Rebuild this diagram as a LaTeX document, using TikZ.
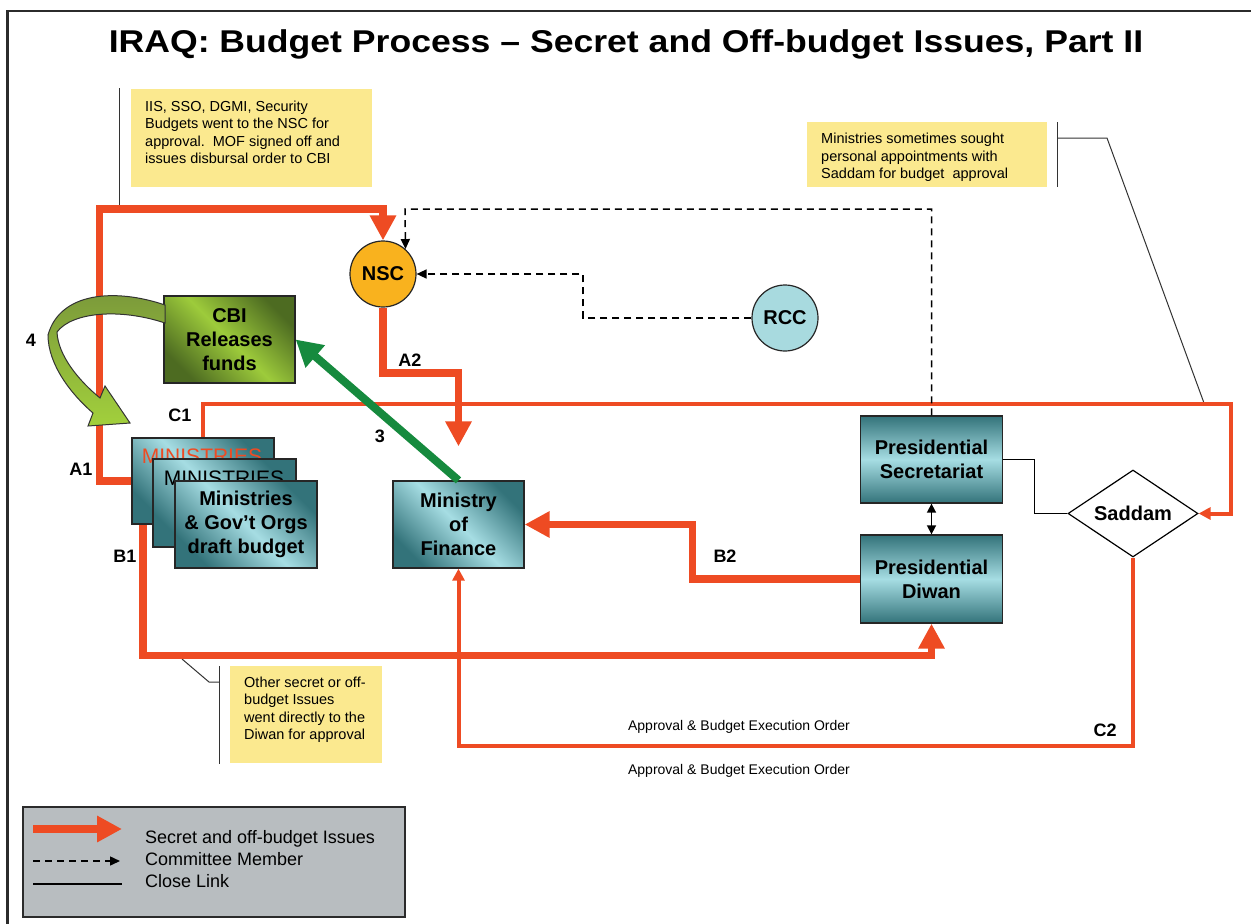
\documentclass[tikz,border=0pt]{standalone}
\usepackage{fontspec}
\setmainfont{Liberation Sans}
\usetikzlibrary{arrows.meta,shapes.geometric,calc}
\definecolor{org}{HTML}{EE4B23}
\definecolor{nscfill}{HTML}{F9B21E}
\definecolor{rccfill}{HTML}{A8DADF}
\definecolor{notey}{HTML}{FBE98F}
\definecolor{grn}{HTML}{168A3E}
\definecolor{teallight}{HTML}{A6DDE3}
\definecolor{tealdark}{HTML}{33737A}
\definecolor{cbilight}{HTML}{9DCB3B}
\definecolor{cbidark}{HTML}{4D6B21}
\definecolor{olivefour}{HTML}{7A983A}
\definecolor{limefour}{HTML}{A2D03C}
\definecolor{legendgray}{HTML}{B8BDC0}
\definecolor{framegray}{HTML}{2B2B2B}
\begin{document}
\begin{tikzpicture}[x=1pt,y=-1pt,
  sec/.style={draw=org, line width=7.5pt, -{Triangle[length=25pt,width=25pt]}},
  secthin/.style={draw=org, line width=4pt, -{Triangle[length=12pt,width=12pt]}},
  cmte/.style={draw=black, line width=1.5pt, dash pattern=on 7pt off 5pt, -{Triangle[length=10pt,width=9pt]}},
  closelink/.style={draw=black, line width=1.2pt},
  callout/.style={draw=black!80, line width=1pt},
  boxfont/.style={font=\bfseries\fontsize{20}{24}\selectfont},
  diagbox/.style={draw=black!85, line width=1.3pt, inner sep=0pt, align=center, boxfont,
     top color=tealdark, bottom color=tealdark, middle color=teallight, shading angle=-45},
  vertbox/.style={draw=black!85, line width=1.3pt, inner sep=0pt, align=center, boxfont,
     minimum width=142pt, minimum height=87pt,
     top color=tealdark, bottom color=tealdark, middle color=teallight},
  notebox/.style={fill=notey, inner sep=0pt},
  notetext/.style={anchor=north west, inner sep=0pt, align=left, font=\fontsize{14.5}{17.5}\selectfont},
  lbl/.style={anchor=base, inner sep=0pt, font=\bfseries\fontsize{18}{20}\selectfont},
  circ/.style={circle, draw=black!85, line width=1.2pt, minimum size=66pt, inner sep=0pt, boxfont},
]
\useasboundingbox (0,0) rectangle (1251,924);
% frame
\draw[framegray, line width=2.5pt] (7.5,924) -- (7.5,11) -- (1251,11);
% title
\node[anchor=base, inner sep=0pt, xscale=1.13, font=\bfseries\fontsize{31.5}{36}\selectfont] (title) at (626,52.5)
  {IRAQ: Budget Process – Secret and Off-budget Issues, Part II};

% notes
\node[notebox, minimum width=241pt, minimum height=98pt] (n1) at (251.5,138) {};
\node[notetext] (n1t) at (145,100.5) {IIS, SSO, DGMI, Security\\Budgets went to the NSC for\\approval.\ \ MOF signed off and\\issues disbursal order to CBI};
\node[notebox, minimum width=240pt, minimum height=65pt] (n2) at (927,154.5) {};
\node[notetext] (n2t) at (821,133) {Ministries sometimes sought\\personal appointments with\\Saddam for budget\ \ approval};
\node[notebox, minimum width=152pt, minimum height=97pt] (n3) at (306,714.5) {};
\node[notetext] (n3t) at (244,676.5) {Other secret or off-\\budget Issues\\went directly to the\\Diwan for approval};

% callout brackets
\coordinate (k1a) at (119,88);
\coordinate (k1b) at (119,206);
\draw[callout] (k1a) -- (k1b);
\coordinate (k2a) at (1057,122);
\coordinate (k2b) at (1057,187);
\coordinate (k2c) at (1057,138);
\coordinate (k2d) at (1107,138);
\coordinate (k2e) at (1204,403);
\draw[callout] (k2a) -- (k2b);
\draw[callout] (k2c) -- (k2d) -- (k2e);
\coordinate (k3a) at (219,666);
\coordinate (k3b) at (219,764);
\coordinate (k3c) at (219,682);
\coordinate (k3d) at (209,682);
\coordinate (k3e) at (182,659);
\draw[callout] (k3a) -- (k3b);
\draw[callout] (k3c) -- (k3d) -- (k3e);

% nodes
\node[circ, fill=nscfill] (nsc) at (383,274) {NSC};
\node[circ, fill=rccfill] (rcc) at (785,318) {RCC};
\node[draw=black!85, line width=1.3pt, inner sep=0pt, align=center, boxfont,
      minimum width=131pt, minimum height=87pt,
      top color=cbidark, bottom color=cbidark, middle color=cbilight, shading angle=-45]
      (cbi) at (229.5,339.5) {CBI\\Releases\\funds};
\node[diagbox, minimum width=131pt, minimum height=87pt] (mof) at (458.5,524.5) {Ministry\\of\\Finance};
\node[vertbox] (ps) at (931.5,459.5) {Presidential\\Secretariat};
\node[vertbox, minimum height=88pt] (pd) at (931.5,579) {Presidential\\Diwan};
\node[diamond, aspect=1.5, draw=black, line width=1.2pt, fill=white, minimum width=130pt,
      minimum height=87pt, inner sep=0pt, boxfont] (sad) at (1133,513.5) {Saddam};

% orange thick flows (drawn before ministries stack)
\draw[sec] (203,481) -| (99.5,209) -| (nsc.north);
\draw[sec] (nsc.south) |- (458.5,373) -- ($(mof.north)+(0,-34)$);
\draw[sec] (pd.west) -| ($(mof.east)+(168,0)$) -- (mof.east);
% C1 and C2
\draw[secthin] (203,481) |- (1231,404) |- (sad.east);
\draw[secthin] (sad.south) |- ($(mof.south)+(0,177)$) -- (mof.south);
% B1
\draw[sec] (143,500) |- ($(pd.south)+(0,32)$) -- (pd.south);

% ministries stack
\node[diagbox, minimum width=142pt, minimum height=86pt] (m1) at (203,481) {};
\node[anchor=base, inner sep=0pt, text=org, font=\fontsize{21}{24}\selectfont] (m1t) at (202,463) {MINISTRIES};
\node[diagbox, minimum width=143pt, minimum height=88pt] (m2) at (224.5,503) {};
\node[anchor=base, inner sep=0pt, font=\fontsize{21}{24}\selectfont] (m2t) at (224,485.5) {MINISTRIES};
\node[diagbox, minimum width=142pt, minimum height=87pt] (m3) at (246,524.5) {Ministries\\\& Gov’t Orgs\\draft budget};

% dashed committee links
\draw[cmte] (ps.north) |- (405,209) -- (nsc.48);
\draw[cmte] (rcc.west) -| (583,274) -- (nsc.east);
% close link
\draw[closelink] (ps.east) -| ($(sad.west)+(-33,0)$) -- (sad.west);
\draw[line width=1.6pt, {Triangle[length=9pt,width=9pt]}-{Triangle[length=9pt,width=9pt]}] (ps.south) -- (pd.north);

% green arrow 3
\draw[grn, line width=8pt, -{Triangle[length=26pt,width=28pt]}] (mof.north) -- (cbi.east);
% green curved arrow 4
\shadedraw[top color=olivefour, bottom color=limefour, draw=black!80, line width=1pt]
  (165,305) .. controls (115,288) and (60,292) .. (48,335)
  .. controls (48,365) and (72,395) .. (93,413)
  -- (88,426) -- (130,423) -- (105,386) -- (100,398)
  .. controls (78,380) and (58,355) .. (57,332)
  .. controls (72,312) and (120,308) .. (165,323) -- cycle;

% labels
\node[lbl] (la1) at (81,475.5) {A1};
\node[lbl] (lb1) at (125,562) {B1};
\node[lbl] (lc1) at (180,421) {C1};
\node[lbl] (la2) at (410,366) {A2};
\node[lbl] (lb2) at (725,562) {B2};
\node[lbl] (lc2) at (1105,736) {C2};
\node[lbl] (l3) at (380,442) {3};
\node[lbl] (l4) at (31,346) {4};
\node[anchor=base, inner sep=0pt, font=\fontsize{14}{16}\selectfont] (ap1) at (739,730) {Approval \& Budget Execution Order};
\node[anchor=base, inner sep=0pt, font=\fontsize{14}{16}\selectfont] (ap2) at (739,774) {Approval \& Budget Execution Order};

% legend
\node[fill=legendgray, draw=framegray, line width=1.3pt, minimum width=382pt, minimum height=110pt, inner sep=0pt] (leg) at (214,862) {};
\coordinate (l1a) at (33,829);
\coordinate (l1b) at (122,829);
\coordinate (l2a) at (33,861);
\coordinate (l2b) at (120,861);
\coordinate (l3a) at (33,884);
\coordinate (l3b) at (122,884);
\draw[draw=org, line width=8pt, -{Triangle[length=25pt,width=25pt]}] (l1a) -- (l1b);
\draw[cmte] (l2a) -- (l2b);
\draw[closelink] (l3a) -- (l3b);
\node[anchor=base west, inner sep=0pt, font=\fontsize{18}{20}\selectfont] (lt1) at (145,843) {Secret and off-budget Issues};
\node[anchor=base west, inner sep=0pt, font=\fontsize{18}{20}\selectfont] (lt2) at (145,865) {Committee Member};
\node[anchor=base west, inner sep=0pt, font=\fontsize{18}{20}\selectfont] (lt3) at (145,887) {Close Link};
\end{tikzpicture}
\end{document}
